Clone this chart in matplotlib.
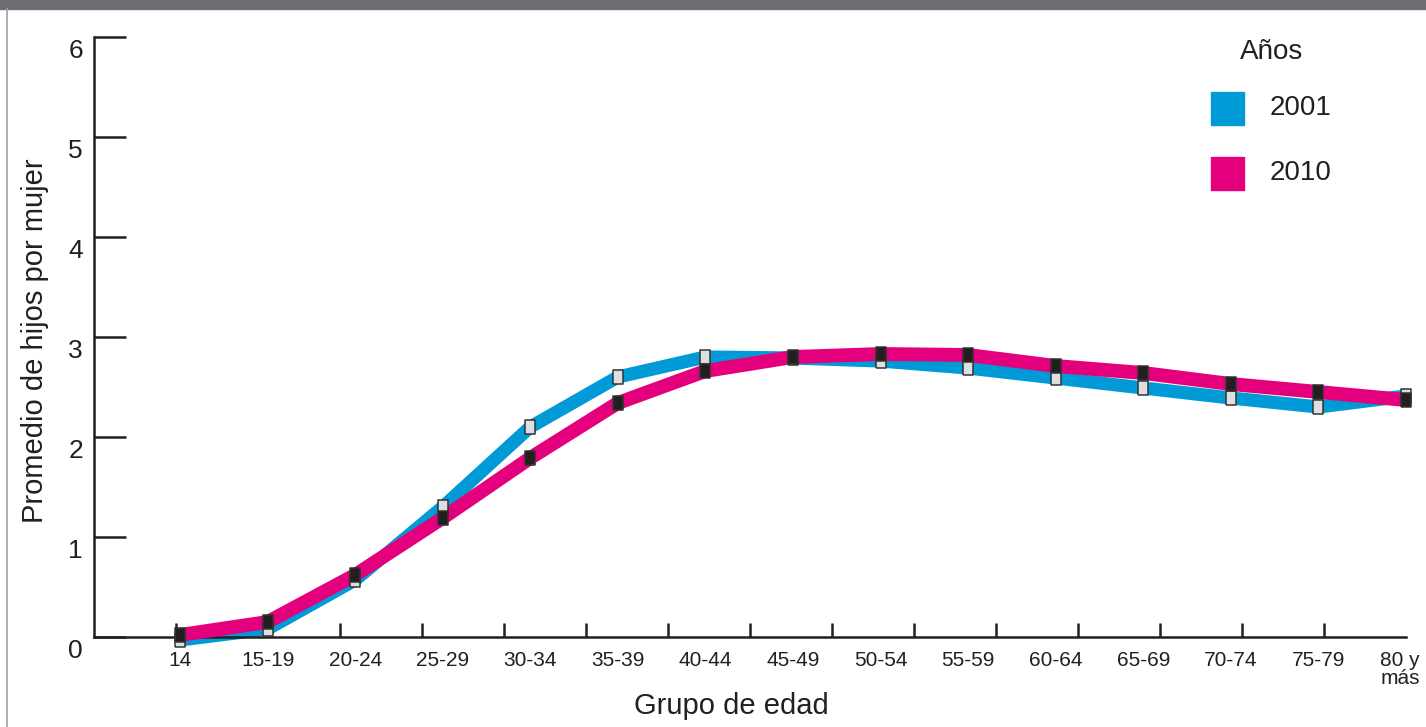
import matplotlib
matplotlib.use('Agg')
import matplotlib.pyplot as plt
from matplotlib.patches import Rectangle
from matplotlib.lines import Line2D
from matplotlib.transforms import ScaledTranslation
import numpy as np

plt.rcParams['font.family'] = ['Liberation Sans', 'DejaVu Sans']

grupos = ['14', '15-19', '20-24', '25-29', '30-34', '35-39', '40-44', '45-49',
          '50-54', '55-59', '60-64', '65-69', '70-74', '75-79', '80 y\nmás']
hijos_2001 = [-0.03, 0.08, 0.57, 1.30, 2.10, 2.60, 2.80, 2.79,
              2.76, 2.69, 2.59, 2.49, 2.39, 2.30, 2.41]
hijos_2010 = [0.02, 0.15, 0.62, 1.19, 1.79, 2.34, 2.66, 2.80,
              2.83, 2.82, 2.71, 2.64, 2.53, 2.45, 2.37]
anios = ['2001', '2010']

AZUL = '#009ad7'
MAGENTA = '#e4007c'
NEGRO = '#231f20'
GRIS_CLARO = '#dedfe0'

W, H = 1426, 727
fig = plt.figure(figsize=(W / 100, H / 100), dpi=100)
ax = fig.add_axes([94 / W, (H - 637) / H, (1406 - 94) / W, 600 / H])

x = np.arange(len(grupos))

# marcador rectangular (mas alto que ancho)
rect = [(-5.2, -7), (5.2, -7), (5.2, 7), (-5.2, 7), (-5.2, -7)]

ax.plot(x, hijos_2001, color=AZUL, lw=9.5, solid_joinstyle='miter',
        solid_capstyle='butt', clip_on=False, zorder=2)
ax.plot(x, hijos_2010, color=MAGENTA, lw=10, solid_joinstyle='miter',
        solid_capstyle='butt', clip_on=False, zorder=3)
ax.plot(x, hijos_2001, ls='none', marker=rect, ms=10, mfc=GRIS_CLARO,
        mec='#333333', mew=1.1, clip_on=False, zorder=4)
ax.plot(x, hijos_2010, ls='none', marker=rect, ms=10.5, mfc=NEGRO,
        mec='#333333', mew=1.1, clip_on=False, zorder=5)

ax.set_xlim(-(180 - 94) / 87.57, 14)
ax.set_ylim(0, 6)

for s in ['top', 'right']:
    ax.spines[s].set_visible(False)
for s in ['left', 'bottom']:
    ax.spines[s].set_color(NEGRO)
    ax.spines[s].set_linewidth(1.8)

ax.set_yticks(range(7))
ax.tick_params(axis='y', direction='in', length=23, width=1.8, color=NEGRO,
               labelsize=19, labelcolor=NEGRO, pad=8)
for lab in ax.get_yticklabels():
    lab.set_transform(lab.get_transform() + ScaledTranslation(0, -0.11, fig.dpi_scale_trans))

ax.set_xticks(x)
ax.set_xticklabels(grupos, linespacing=0.95)
ax.tick_params(axis='x', which='major', length=0, labelsize=15,
               labelcolor=NEGRO, pad=10)
ax.get_xticklabels()[-1].set_transform(
    ax.get_xticklabels()[-1].get_transform() + ScaledTranslation(-0.06, 0, fig.dpi_scale_trans))
ax.set_xticks(np.linspace(-0.05, 14, 16), minor=True)
ax.tick_params(axis='x', which='minor', direction='in', length=10,
               width=1.8, color=NEGRO)

fig.text(35 / W, 1 - 341 / H, 'Promedio de hijos por mujer', rotation=90,
         ha='center', va='center', fontsize=21, color=NEGRO)
fig.text(731 / W, 1 - 706 / H, 'Grupo de edad', ha='center', va='center',
         fontsize=21, color=NEGRO)

# leyenda
fig.text(1272 / W, 1 - 52 / H, 'Años', ha='center', va='center',
         fontsize=20, color=NEGRO)
for i, (anio, col) in enumerate(zip(anios, [AZUL, MAGENTA])):
    y0 = 92 + i * 65
    fig.patches.append(Rectangle((1211 / W, 1 - (y0 + 33) / H), 33 / W, 33 / H,
                                 transform=fig.transFigure, color=col))
    fig.text(1270 / W, 1 - (y0 + 16) / H, anio, ha='left', va='center',
             fontsize=20, color=NEGRO)

# marco de la pagina
fig.patches.append(Rectangle((0, 1 - 9 / H), 1, 9 / H, transform=fig.transFigure,
                             color='#6d6e71'))
fig.lines.append(Line2D([7 / W, 7 / W], [0, 1 - 9 / H], transform=fig.transFigure,
                        color='#a0a0a0', lw=1.2))

fig.savefig('out.png', dpi=100)
